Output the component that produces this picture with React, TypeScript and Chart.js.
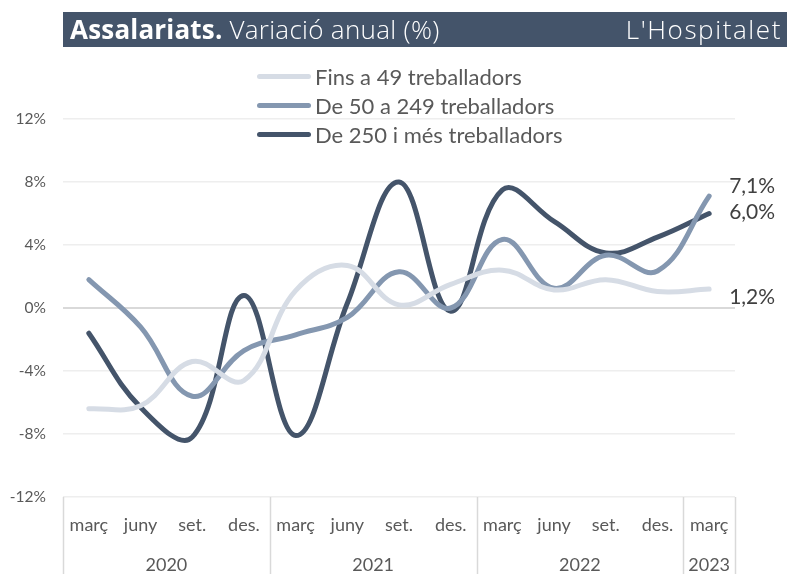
import React, { useEffect, useRef } from "react";
import { Chart, registerables } from "chart.js";
Chart.register(...registerables);

const months = ["març", "juny", "set.", "des.", "març", "juny", "set.", "des.", "març", "juny", "set.", "des.", "març"];
const years = ["2020", "2021", "2022", "2023"];
const yearSizes = [4, 4, 4, 1];
const seriesNames = ["Fins a 49 treballadors", "De 50 a 249 treballadors", "De 250 i més treballadors"];
const small = [-6.4, -6.2, -3.4, -4.6, 1.1, 2.7, 0.2, 1.5, 2.4, 1.15, 1.8, 1.05, 1.2];
const medium = [1.8, -1.2, -5.6, -2.7, -1.7, -0.6, 2.3, 0.0, 4.35, 1.25, 3.35, 2.35, 7.1];
const large = [-1.6, -6.3, -8.2, 0.8, -8.1, 0.3, 8.0, -0.2, 7.5, 5.5, 3.5, 4.5, 6.0];
const yMin = -12;
const yMax = 12;
const yStep = 4;

const colors = ["#d6dce5", "#8497b0", "#44546a"];
const endLabelOffsets = [8, -10, -1];
const FONT = "Lato, 'Open Sans', sans-serif";
const TITLE_FONT = "'Open Sans', Lato, sans-serif";

const fmt = (v: number) => v.toFixed(1).replace(".", ",") + "%";

const overlayPlugin = {
  id: "overlay",
  afterDraw(chart: any) {
    const ctx = chart.ctx;
    const xs = chart.scales.x;
    const ys = chart.scales.y;
    const area = chart.chartArea;
    const H = chart.height;
    ctx.save();
    // month labels
    ctx.fillStyle = "#595959";
    ctx.font = `18px ${FONT}`;
    ctx.textAlign = "center";
    ctx.textBaseline = "middle";
    months.forEach((m, i) => {
      ctx.fillText(m, xs.getPixelForValue(i), area.bottom + 28);
    });
    // separators and years
    ctx.strokeStyle = "#d9d9d9";
    ctx.lineWidth = 1.5;
    let start = 0;
    const edges: number[] = [area.left];
    yearSizes.forEach((n, gi) => {
      const end = start + n - 1;
      const left = start === 0 ? area.left : (xs.getPixelForValue(start - 1) + xs.getPixelForValue(start)) / 2;
      const right = end === months.length - 1 ? area.right : (xs.getPixelForValue(end) + xs.getPixelForValue(end + 1)) / 2;
      edges.push(right);
      ctx.fillText(years[gi], (left + right) / 2, area.bottom + 68);
      start += n;
    });
    edges.forEach((x) => {
      ctx.beginPath();
      ctx.moveTo(Math.round(x) + 0.5, area.bottom);
      ctx.lineTo(Math.round(x) + 0.5, H);
      ctx.stroke();
    });
    // end labels
    ctx.fillStyle = "#404040";
    ctx.font = `21px ${FONT}`;
    ctx.textAlign = "left";
    chart.data.datasets.forEach((ds: any, di: number) => {
      const last = ds.data.length - 1;
      const v = ds.data[last];
      ctx.fillText(fmt(v), xs.getPixelForValue(last) + 20, ys.getPixelForValue(v) + endLabelOffsets[di]);
    });
    ctx.restore();
  },
};

export default function App() {
  const ref = useRef<HTMLCanvasElement>(null);
  useEffect(() => {
    if (!ref.current) return;
    const series = [small, medium, large];
    const chart = new Chart(ref.current, {
      type: "line",
      data: {
        labels: months,
        datasets: series.map((d, i) => ({
          label: seriesNames[i],
          data: d,
          borderColor: colors[i],
          backgroundColor: colors[i],
          borderWidth: 5,
          pointRadius: 0,
          tension: 0.4,
          borderCapStyle: "round" as const,
          borderJoinStyle: "round" as const,
          fill: false,
        })),
      },
      options: {
        responsive: false,
        animation: false,
        layout: { padding: { top: 119, right: 52, left: 0, bottom: 0 } },
        plugins: { legend: { display: false }, tooltip: { enabled: false }, title: { display: false } },
        scales: {
          x: {
            type: "category",
            offset: true,
            grid: { display: false },
            border: { display: false },
            ticks: { display: false },
            afterFit: (s: any) => {
              s.height = 77;
            },
          },
          y: {
            min: yMin,
            max: yMax,
            ticks: {
              stepSize: yStep,
              callback: (v: any) => v + "%",
              color: "#595959",
              font: { size: 15.5, family: FONT },
              padding: 17,
            },
            grid: {
              drawTicks: false,
              color: (c: any) => (c.tick && c.tick.value === 0 ? "#d9d9d9" : "#eeeeee"),
              lineWidth: (c: any) => (c.tick && c.tick.value === 0 ? 2 : 1.5),
            },
            border: { display: false },
            afterFit: (s: any) => {
              s.width = 63;
            },
          },
        },
      },
      plugins: [overlayPlugin],
    });
    return () => chart.destroy();
  }, []);

  return (
    <div style={{ position: "fixed", left: 0, top: 0, width: 787, height: 574, background: "#fff", overflow: "hidden" }}>
      <canvas ref={ref} width={787} height={574} style={{ position: "absolute", left: 0, top: 0 }} />
      <div
        style={{
          position: "absolute",
          left: 63,
          top: 12,
          width: 724,
          height: 35,
          background: "#44546a",
          color: "#fff",
          fontFamily: TITLE_FONT,
          fontSize: 26,
          lineHeight: "35px",
          boxSizing: "border-box",
          padding: "0 5px 0 7px",
          display: "flex",
          justifyContent: "space-between",
          whiteSpace: "nowrap",
        }}
      >
        <span>
          <span style={{ fontWeight: 700, letterSpacing: 0.2 }}>Assalariats.</span>{" "}
          <span style={{ letterSpacing: 0.3, fontWeight: 300 }}>Variació anual (%)</span>
        </span>
        <span style={{ letterSpacing: 1.6, fontWeight: 300 }}>L'Hospitalet</span>
      </div>
      {seriesNames.map((n, i) => (
        <div
          key={n}
          style={{
            position: "absolute",
            left: 257,
            top: 76 + i * 29 - 14,
            height: 28,
            display: "flex",
            alignItems: "center",
            fontFamily: FONT,
            fontSize: 22,
            color: "#595959",
            whiteSpace: "nowrap",
          }}
        >
          <span style={{ display: "inline-block", width: 54, height: 5, borderRadius: 3, background: colors[i], marginRight: 4 }} />
          <span>{n}</span>
        </div>
      ))}
    </div>
  );
}
